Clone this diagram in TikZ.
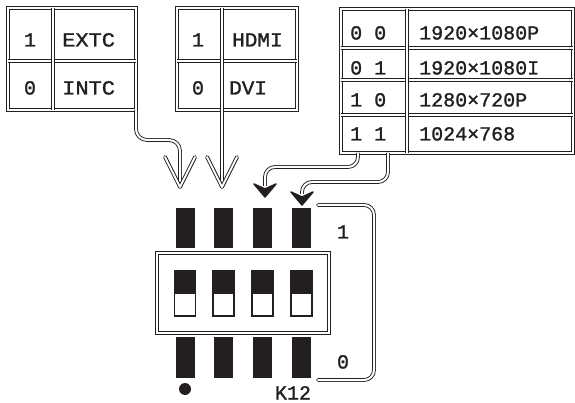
\documentclass[tikz,border=0pt]{standalone}
\usepackage{fontspec}
\newfontfamily\monof{Liberation Mono}[FakeBold=1.2]
\usetikzlibrary{arrows.meta}
\definecolor{ink}{HTML}{231F20}
\begin{document}
\begin{tikzpicture}[x=1pt,y=-1pt,
  dbl/.style={draw=ink, line width=0.9pt, double=white, double distance=2pt},
  lbl/.style={font=\monof\fontsize{20}{24}\selectfont, text=ink, inner sep=0pt, text height=13pt, text depth=0pt},
  head/.style={fill=ink, draw=ink, line width=1.5pt, line join=round},
  vhead/.style={dbl, line cap=round, line join=round},
  pinbar/.style={fill=ink},
  knob/.style={draw=ink, line width=1.3pt},
]
\useasboundingbox (0,0) rectangle (575,403);
% ---------- table 1 ----------
\draw[dbl] (8,8) rectangle (136,110);
\draw[dbl] (8,61) -- (136,61);
\draw[dbl] (53,8) -- (53,110);
\node[lbl] (t1a) at (30,40) {1};
\node[lbl, anchor=west, xscale=1.1] (t1b) at (62,40) {EXTC};
\node[lbl] (t1c) at (30,88) {0};
\node[lbl, anchor=west, xscale=1.1] (t1d) at (62,88) {INTC};
% ---------- table 2 ----------
\draw[dbl] (177,8) rectangle (297,110);
\draw[dbl] (177,61) -- (297,61);
\draw[dbl] (222,8) -- (222,110);
\node[lbl] (t2a) at (198,40) {1};
\node[lbl, anchor=west, xscale=1.05] (t2b) at (232,40) {HDMI};
\node[lbl] (t2c) at (198,88) {0};
\node[lbl, anchor=west, xscale=1.05] (t2d) at (229,88) {DVI};
% ---------- table 3 ----------
\draw[dbl] (341,9) rectangle (573,153);
\foreach \yy in {48,80,115} \draw[dbl] (341,\yy) -- (573,\yy);
\draw[dbl] (407,9) -- (407,153);
\node[lbl, anchor=west] (r1a) at (350,33) {0 0};
\node[lbl, anchor=west] (r1b) at (419,33) {1920×1080P};
\node[lbl, anchor=west] (r2a) at (350,68) {0 1};
\node[lbl, anchor=west] (r2b) at (419,68) {1920×1080I};
\node[lbl, anchor=west] (r3a) at (350,100) {1 0};
\node[lbl, anchor=west] (r3b) at (419,100) {1280×720P};
\node[lbl, anchor=west] (r4a) at (350,134) {1 1};
\node[lbl, anchor=west] (r4b) at (419,134) {1024×768};
% ---------- coordinates ----------
\coordinate (a1s) at (136,110);
\coordinate (a1t) at (180,187);
\coordinate (a2s) at (222,110);
\coordinate (a2t) at (222,187);
\coordinate (a3s) at (358,153);
\coordinate (a3e) at (265,186);
\coordinate (a3t) at (265,197);
\coordinate (a4s) at (388,153);
\coordinate (a4e) at (302,194);
\coordinate (a4t) at (302,205);
% ---------- arrows ----------
\draw[dbl, rounded corners=11pt] (a1s) -- (136,140) -- (180,140) -- (a1t);
\draw[vhead] (165,157) -- (a1t) -- (195,157);
\draw[dbl] (a2s) -- (a2t);
\draw[vhead] (207,157) -- (a2t) -- (237,157);
\draw[dbl, rounded corners=10pt] (a3s) -- (358,167) -- (265,167) -- (a3e);
\draw[head] (a3t) -- (254,184) -- (265,189) -- (276,184) -- cycle;
\draw[dbl, rounded corners=10pt] (a4s) -- (388,182) -- (302,182) -- (a4e);
\draw[head] (a4t) -- (291,192) -- (302,197) -- (313,192) -- cycle;
% ---------- switch ----------
\foreach \cx in {185,223.5,262.5,301.5} {
  \fill[pinbar] (\cx-9.5,208) rectangle (\cx+9.5,248);
  \fill[pinbar] (\cx-9.5,337) rectangle (\cx+9.5,378);
  \fill[ink] (\cx-10.5,271) rectangle (\cx+10.5,294);
  \draw[knob] (\cx-10.5,271) rectangle (\cx+10.5,316);
}
\draw[dbl] (157,253) rectangle (329,333);
\fill[ink] (185,389) circle (6);
\draw[dbl, rounded corners=10pt, line cap=round] (318,205) -- (374,205) -- (374,380) -- (318,380);
\node[lbl] (s1) at (343,232) {1};
\node[lbl] (s0) at (343,362) {0};
\node[lbl] (k12) at (293,393) {K12};
\end{tikzpicture}
\end{document}
